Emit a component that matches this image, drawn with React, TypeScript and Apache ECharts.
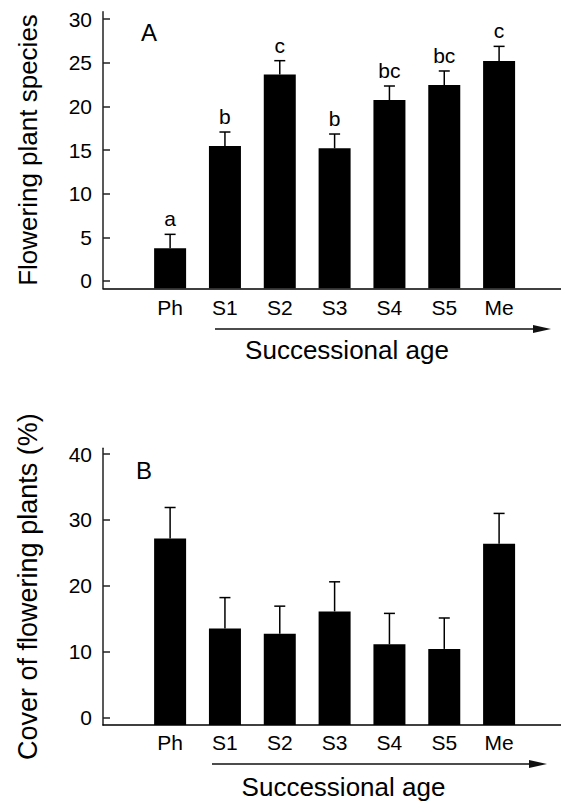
import React, { useEffect, useRef } from "react";
import * as echarts from "echarts";

const categories = ["Ph", "S1", "S2", "S3", "S4", "S5", "Me"];
const categoryPositions = [1, 2, 3, 4, 5, 6, 7];
const speciesMean = [3.74, 15.46, 23.66, 15.19, 20.72, 22.44, 25.19];
const speciesSE = [1.6, 1.6, 1.57, 1.64, 1.61, 1.61, 1.68];
const speciesLetters = ["a", "b", "c", "b", "bc", "bc", "c"];
const coverMean = [27.2, 13.5, 12.7, 16.1, 11.1, 10.4, 26.4];
const coverSE = [4.7, 4.7, 4.2, 4.5, 4.7, 4.7, 4.6];
const speciesTicks = [0, 5, 10, 15, 20, 25, 30];
const coverTicks = [0, 10, 20, 30, 40];

const FONT = "Liberation Sans, Arial, Helvetica, sans-serif";
const Y_MIN_A = -0.84;
const Y_MAX_A = 30.84;
const Y_MIN_B = -1.17;
const Y_MAX_B = 40.9;
const X_MIN = -0.224;
const X_MAX = 8.129;

function makeRender(yMin: number, letters: string[] | null) {
  return (params: any, api: any) => {
    const x = api.value(0);
    const v = api.value(1);
    const top = api.value(2);
    const base = api.coord([x, yMin]);
    const p = api.coord([x, v]);
    const e = api.coord([x, top]);
    const w = 32;
    const children: any[] = [
      {
        type: "rect",
        shape: { x: p[0] - w / 2, y: p[1], width: w, height: base[1] - p[1] },
        style: { fill: "#000" },
      },
      {
        type: "line",
        shape: { x1: p[0], y1: p[1], x2: e[0], y2: e[1] },
        style: { stroke: "#000", lineWidth: 1.5 },
      },
      {
        type: "line",
        shape: { x1: e[0] - 5.5, y1: e[1], x2: e[0] + 5.5, y2: e[1] },
        style: { stroke: "#000", lineWidth: 1.5 },
      },
    ];
    if (letters) {
      children.push({
        type: "text",
        x: e[0],
        y: e[1] - 5,
        style: {
          text: letters[params.dataIndex],
          textAlign: "center",
          textVerticalAlign: "bottom",
          fontFamily: FONT,
          fontSize: 21,
          fill: "#000",
        },
      });
    }
    return { type: "group", children };
  };
}

function yAxisOpt(gridIndex: number, min: number, max: number, ticks: number[], name: string, size: number) {
  return {
    type: "value",
    gridIndex,
    min,
    max,
    name,
    nameLocation: "middle",
    nameGap: 62,
    nameTextStyle: { fontFamily: FONT, fontSize: size, color: "#000" },
    axisLine: { show: true, onZero: false, lineStyle: { color: "#222", width: 1.5 } },
    axisTick: { show: true, inside: true, length: 7, customValues: ticks, lineStyle: { color: "#222", width: 1.5 } },
    axisLabel: {
      customValues: ticks,
      margin: 11,
      fontFamily: FONT,
      fontSize: 21,
      color: "#000",
    },
    splitLine: { show: false },
  };
}

function xAxisOpt(gridIndex: number, margin: number) {
  return {
    type: "value",
    gridIndex,
    min: X_MIN,
    max: X_MAX,
    axisLine: { show: true, onZero: false, lineStyle: { color: "#000", width: 1.5 } },
    axisTick: { show: false },
    axisLabel: {
      customValues: categoryPositions,
      formatter: (v: number) => categories[Math.round(v) - 1] ?? "",
      margin,
      fontFamily: FONT,
      fontSize: 21,
      color: "#000",
    },
    splitLine: { show: false },
  };
}

function arrow(y: number, x0: number, xHead: number, xEnd: number) {
  return [
    {
      type: "line",
      shape: { x1: x0, y1: y, x2: xHead, y2: y },
      style: { stroke: "#111", lineWidth: 1.5 },
    },
    {
      type: "polygon",
      shape: { points: [[xHead, y - 4], [xEnd, y], [xHead, y + 4]] },
      style: { fill: "#111" },
    },
  ];
}

export default function App() {
  const ref = useRef<HTMLDivElement>(null);
  useEffect(() => {
    if (!ref.current) return;
    const chart = echarts.init(ref.current, null, { renderer: "svg" });
    const dataA = categoryPositions.map((x, i) => [x, speciesMean[i], speciesMean[i] + speciesSE[i]]);
    const dataB = categoryPositions.map((x, i) => [x, coverMean[i], coverMean[i] + coverSE[i]]);
    chart.setOption({
      animation: false,
      backgroundColor: "#fff",
      grid: [
        { left: 103, top: 11.7, width: 458, height: 276.6 },
        { left: 103, top: 448.3, width: 458, height: 276.7 },
      ],
      xAxis: [xAxisOpt(0, 9), xAxisOpt(1, 7)],
      yAxis: [
        yAxisOpt(0, Y_MIN_A, Y_MAX_A, speciesTicks, "Flowering plant species", 26),
        yAxisOpt(1, Y_MIN_B, Y_MAX_B, coverTicks, "Cover of flowering plants (%)", 27),
      ],
      series: [
        {
          type: "custom",
          xAxisIndex: 0,
          yAxisIndex: 0,
          data: dataA,
          renderItem: makeRender(Y_MIN_A, speciesLetters),
          clip: false,
        },
        {
          type: "custom",
          xAxisIndex: 1,
          yAxisIndex: 1,
          data: dataB,
          renderItem: makeRender(Y_MIN_B, null),
          clip: false,
        },
      ],
      graphic: [
        {
          type: "text",
          x: 149,
          y: 32.5,
          style: { text: "A", textAlign: "center", textVerticalAlign: "middle", fontFamily: FONT, fontSize: 24, fill: "#000" },
        },
        {
          type: "text",
          x: 144,
          y: 470,
          style: { text: "B", textAlign: "center", textVerticalAlign: "middle", fontFamily: FONT, fontSize: 24, fill: "#000" },
        },
        ...arrow(329, 215, 533, 551),
        ...arrow(764, 212, 529, 547),
        {
          type: "text",
          x: 347,
          y: 350,
          style: { text: "Successional age", textAlign: "center", textVerticalAlign: "middle", fontFamily: FONT, fontSize: 26, fill: "#000" },
        },
        {
          type: "text",
          x: 343.5,
          y: 787,
          style: { text: "Successional age", textAlign: "center", textVerticalAlign: "middle", fontFamily: FONT, fontSize: 26, fill: "#000" },
        },
      ],
    });
    return () => chart.dispose();
  }, []);
  return (
    <div
      ref={ref}
      style={{ position: "fixed", left: 0, top: 0, width: 561, height: 803, background: "#fff" }}
    />
  );
}
